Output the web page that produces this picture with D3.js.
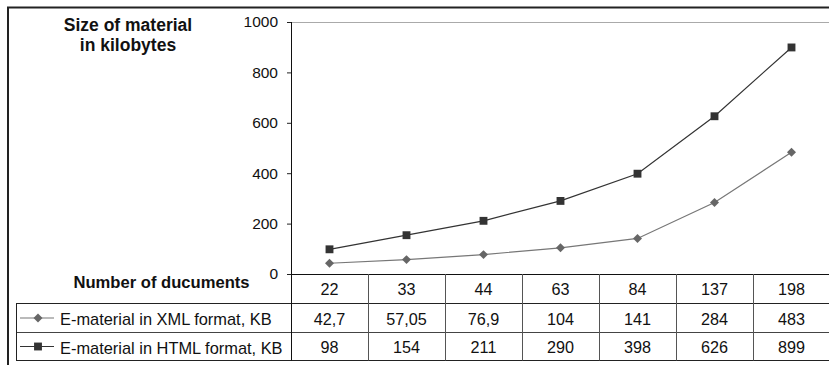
<!DOCTYPE html>
<html><head><meta charset="utf-8">
<script src="https://cdn.jsdelivr.net/npm/d3@7"></script>
<style>
body{margin:0;background:#fff;}
svg{display:block;font-family:"Liberation Sans",Arial,sans-serif;}
</style></head>
<body><svg id="c" width="829" height="365"></svg>
<script>
const categories = ["22","33","44","63","84","137","198"];
const xmlValues = [42.7, 57.05, 76.9, 104, 141, 284, 483];
const htmlValues = [98, 154, 211, 290, 398, 626, 899];
const xmlLabels = ["42,7","57,05","76,9","104","141","284","483"];
const htmlLabels = ["98","154","211","290","398","626","899"];
const yTicks = [0,200,400,600,800,1000];
const seriesNames = ["E-material in XML format, KB","E-material in HTML format, KB"];

(function(){
const svg = d3.select("#c");
const pLeft = 291, pRight = 830, pTop = 22, pBottom = 274;
const x = d3.scaleBand().domain(categories).range([pLeft, pRight]);
const y = d3.scaleLinear().domain([0,1000]).range([pBottom, pTop]);

// outer frame
svg.append("path").attr("d","M8,836 L8,7.5 L840,7.5").attr("fill","none").attr("stroke","#222").attr("stroke-width",2);

// top gridline
svg.append("line").attr("x1",pLeft).attr("x2",pRight).attr("y1",y(1000)+0.5).attr("y2",y(1000)+0.5).attr("stroke","#aaa").attr("stroke-width",1);

// y axis
const ya = svg.append("g").attr("transform",`translate(${pLeft},0)`)
  .call(d3.axisLeft(y).tickValues(yTicks).tickSize(4).tickPadding(9).tickFormat(d3.format("d")));
ya.select(".domain").remove();
ya.selectAll("line").attr("stroke","#222");
ya.selectAll("text").attr("font-size",15.5).attr("fill","#111").attr("font-family","Liberation Sans, Arial, sans-serif");
svg.append("line").attr("x1",pLeft+0.5).attr("x2",pLeft+0.5).attr("y1",pTop).attr("y2",pBottom).attr("stroke","#111");
svg.append("line").attr("x1",pLeft).attr("x2",pRight).attr("y1",pBottom+0.5).attr("y2",pBottom+0.5).attr("stroke","#111");

// titles
const t1 = svg.append("text").attr("x",128).attr("y",31).attr("text-anchor","middle").attr("font-size",17.5).attr("font-weight","bold").attr("fill","#111");
t1.append("tspan").attr("x",128).text("Size of material");
t1.append("tspan").attr("x",128).attr("dy",20).text("in kilobytes");
svg.append("text").attr("x",161.5).attr("y",288).attr("text-anchor","middle").attr("font-size",16.6).attr("font-weight","bold").attr("fill","#111").text("Number of ducuments");

// table
const rowY = [274, 303.5, 332.5, 360.5];
const tableLeft = 16;
const g = svg.append("g");
g.append("line").attr("x1",tableLeft).attr("x2",pRight).attr("y1",rowY[1]).attr("y2",rowY[1]).attr("stroke","#222");
g.append("line").attr("x1",tableLeft).attr("x2",pRight).attr("y1",rowY[2]).attr("y2",rowY[2]).attr("stroke","#444");
g.append("line").attr("x1",tableLeft).attr("x2",pRight).attr("y1",rowY[3]).attr("y2",rowY[3]).attr("stroke","#222");
g.append("line").attr("x1",tableLeft+0.5).attr("x2",tableLeft+0.5).attr("y1",rowY[1]).attr("y2",rowY[3]).attr("stroke","#222");
categories.forEach((c,i)=>{
  const xb = Math.round(x(c))+0.5;
  g.append("line").attr("x1",xb).attr("x2",xb).attr("y1",pBottom).attr("y2",rowY[3]).attr("stroke", i===0?"#111":"#555");
});
const cellText = (arr, row) => g.selectAll(null).data(arr).enter().append("text")
  .attr("x",(d,i)=>x(categories[i])+x.bandwidth()/2)
  .attr("y",(rowY[row]+rowY[row+1])/2+6.5)
  .attr("text-anchor","middle").attr("font-size",16.2).attr("fill","#111").text(d=>d);
cellText(categories,0);
cellText(xmlLabels,1);
cellText(htmlLabels,2);

// markers
const diamond = d3.symbol().type(d3.symbolSquare).size(40);
const square = d3.symbol().type(d3.symbolSquare).size(62);
const mk = {d:{sym:diamond, rot:45, fill:"#666"}, s:{sym:square, rot:0, fill:"#333"}};

// legend keys
[[0,"#777",mk.d],[1,"#333",mk.s]].forEach(([r,lc,m])=>{
  const cy = (rowY[r+1]+rowY[r+2])/2;
  g.append("line").attr("x1",20).attr("x2",54).attr("y1",cy).attr("y2",cy).attr("stroke",lc).attr("stroke-width",1.2);
  g.append("path").attr("d",m.sym()).attr("transform",`translate(38,${cy}) rotate(${m.rot})`).attr("fill",m.fill);
  g.append("text").attr("x",60).attr("y",cy+7).attr("font-size",16.4).attr("fill","#111").text(seriesNames[r]);
});

// lines
const cx = (d,i)=>x(categories[i])+x.bandwidth()/2;
const line = d3.line().x(cx).y(d=>y(d));
svg.append("path").datum(xmlValues).attr("d",line).attr("fill","none").attr("stroke","#777").attr("stroke-width",1.2);
svg.append("path").datum(htmlValues).attr("d",line).attr("fill","none").attr("stroke","#333").attr("stroke-width",1.2);
svg.selectAll(null).data(xmlValues).enter().append("path").attr("d",mk.d.sym())
  .attr("transform",(d,i)=>`translate(${cx(d,i)},${y(d)}) rotate(45)`).attr("fill",mk.d.fill);
svg.selectAll(null).data(htmlValues).enter().append("path").attr("d",mk.s.sym())
  .attr("transform",(d,i)=>`translate(${cx(d,i)},${y(d)})`).attr("fill",mk.s.fill);
})();
</script></body></html>
